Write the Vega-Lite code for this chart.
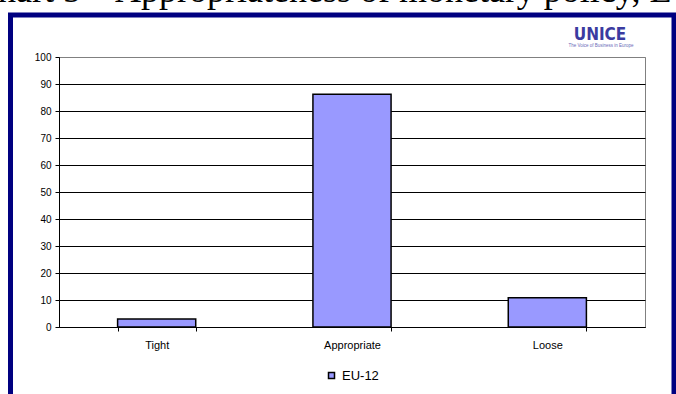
{
  "$schema": "https://vega.github.io/schema/vega-lite/v6.json",
  "width": 586,
  "height": 270,
  "autosize": {"type": "none"},
  "padding": {"left": 59, "top": 57, "right": 31, "bottom": 67},
  "background": "white",
  "title": {
    "text": "Chart 5 – Appropriateness of monetary policy, EU-12",
    "anchor": "start",
    "frame": "group",
    "font": "Liberation Serif",
    "fontSize": 36,
    "fontWeight": "normal",
    "color": "black",
    "offset": 0,
    "dx": -85,
    "dy": -3
  },
  "data": {
    "values": [
      {"category": "Tight", "value": 3.0, "series": "EU-12"},
      {"category": "Appropriate", "value": 86.2, "series": "EU-12"},
      {"category": "Loose", "value": 10.8, "series": "EU-12"}
    ]
  },
  "layer": [
    {
      "data": {"values": [{}]},
      "mark": {"type": "rect", "filled": false, "stroke": "#000080", "strokeWidth": 5},
      "encoding": {
        "x": {"value": -48.5},
        "x2": {"value": 615},
        "y": {"value": -42},
        "y2": {"value": 400}
      }
    },
    {
      "mark": {"type": "bar", "stroke": "black", "strokeWidth": 1.5},
      "encoding": {
        "x": {
          "field": "category",
          "type": "nominal",
          "sort": ["Tight", "Appropriate", "Loose"],
          "scale": {"paddingInner": 0.6, "paddingOuter": 0.3},
          "axis": {
            "title": null,
            "labelAngle": 0,
            "tickBand": "extent",
            "domainColor": "black",
            "tickColor": "black",
            "tickSize": 4,
            "labelFont": "Liberation Sans",
            "labelFontSize": 11,
            "labelColor": "black",
            "labelPadding": 8,
            "grid": false
          }
        },
        "y": {
          "field": "value",
          "type": "quantitative",
          "scale": {"domain": [0, 100], "nice": false},
          "axis": {
            "title": null,
            "values": [0, 10, 20, 30, 40, 50, 60, 70, 80, 90, 100],
            "domainColor": "black",
            "tickColor": "black",
            "tickSize": 4,
            "labelFont": "Liberation Sans",
            "labelFontSize": 10,
            "labelColor": "black",
            "labelPadding": 4,
            "grid": true,
            "gridColor": {"condition": {"test": "datum.value === 100", "value": "#808080"}, "value": "black"},
            "gridOpacity": 1,
            "gridWidth": 1
          }
        },
        "color": {
          "field": "series",
          "type": "nominal",
          "scale": {"range": ["#9999FF"]},
          "legend": {
            "title": null,
            "orient": "none",
            "legendX": 266,
            "legendY": 312,
            "symbolType": "square",
            "symbolSize": 36,
            "symbolStrokeColor": "black",
            "symbolStrokeWidth": 1.5,
            "labelFont": "Liberation Sans",
            "labelFontSize": 13,
            "labelColor": "black",
            "labelOffset": 4
          }
        }
      }
    },
    {
      "data": {"values": [{"logo": "UNICE"}]},
      "mark": {"type": "text", "font": "DejaVu Sans Condensed, Liberation Sans", "fontSize": 17, "fontWeight": "bold", "color": "#3b3ba0", "align": "center", "baseline": "alphabetic"},
      "encoding": {
        "text": {"field": "logo"},
        "x": {"value": 541},
        "y": {"value": -17}
      }
    },
    {
      "data": {"values": [{"tagline": "The Voice of Business in Europe"}]},
      "mark": {"type": "text", "font": "Liberation Sans", "fontSize": 4.5, "color": "#6a6ab8", "align": "center", "baseline": "alphabetic"},
      "encoding": {
        "text": {"field": "tagline"},
        "x": {"value": 542},
        "y": {"value": -10.5}
      }
    }
  ],
  "config": {
    "view": {"stroke": "#808080", "strokeWidth": 1}
  }
}
